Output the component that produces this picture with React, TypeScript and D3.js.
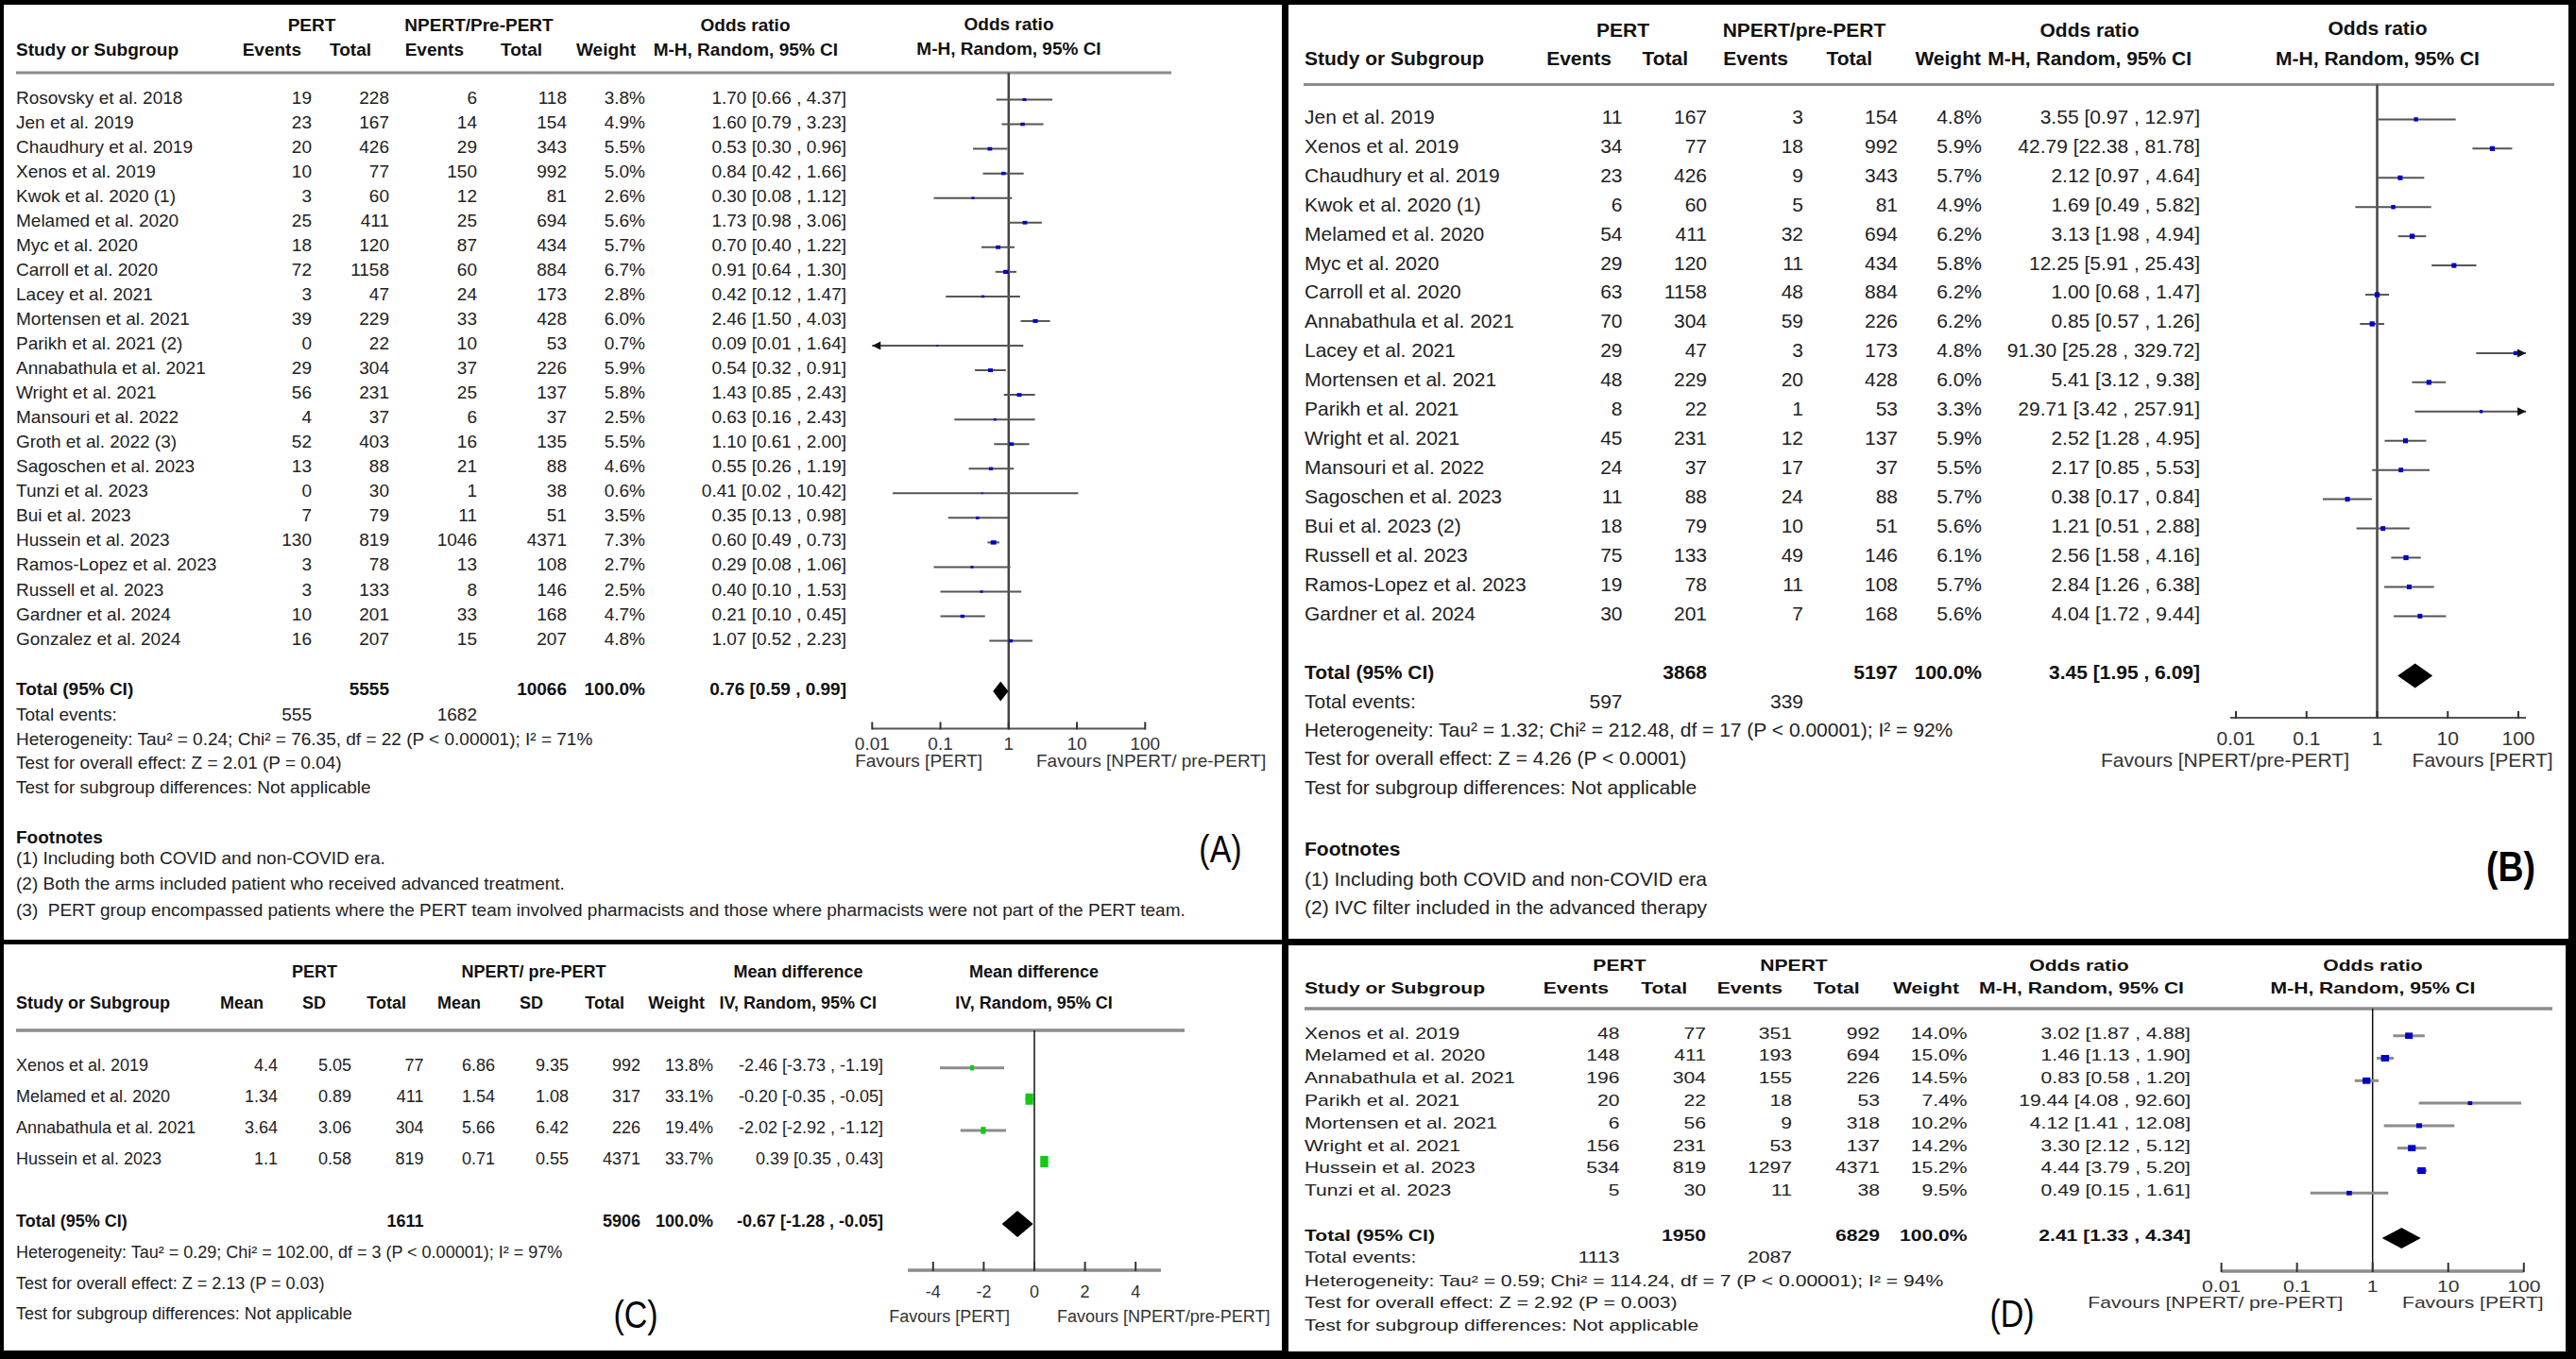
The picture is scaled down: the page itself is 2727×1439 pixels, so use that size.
import React from "react";
import * as d3 from "d3";

const W = 2727, H = 1439;
const FONT = "'Liberation Sans', Arial, Helvetica, sans-serif";

// ---------------- Panel A ----------------
const aStudies = ["Rosovsky et al. 2018", "Jen et al. 2019", "Chaudhury et al. 2019", "Xenos et al. 2019", "Kwok et al. 2020 (1)", "Melamed et al. 2020", "Myc et al. 2020", "Carroll et al. 2020", "Lacey et al. 2021", "Mortensen et al. 2021", "Parikh et al. 2021 (2)", "Annabathula et al. 2021", "Wright et al. 2021", "Mansouri et al. 2022", "Groth et al. 2022 (3)", "Sagoschen et al. 2023", "Tunzi et al. 2023", "Bui et al. 2023", "Hussein et al. 2023", "Ramos-Lopez et al. 2023", "Russell et al. 2023", "Gardner et al. 2024", "Gonzalez et al. 2024"];
const aPertEvents = [19, 23, 20, 10, 3, 25, 18, 72, 3, 39, 0, 29, 56, 4, 52, 13, 0, 7, 130, 3, 3, 10, 16];
const aPertTotal = [228, 167, 426, 77, 60, 411, 120, 1158, 47, 229, 22, 304, 231, 37, 403, 88, 30, 79, 819, 78, 133, 201, 207];
const aCtrlEvents = [6, 14, 29, 150, 12, 25, 87, 60, 24, 33, 10, 37, 25, 6, 16, 21, 1, 11, 1046, 13, 8, 33, 15];
const aCtrlTotal = [118, 154, 343, 992, 81, 694, 434, 884, 173, 428, 53, 226, 137, 37, 135, 88, 38, 51, 4371, 108, 146, 168, 207];
const aWeight = [3.8, 4.9, 5.5, 5.0, 2.6, 5.6, 5.7, 6.7, 2.8, 6.0, 0.7, 5.9, 5.8, 2.5, 5.5, 4.6, 0.6, 3.5, 7.3, 2.7, 2.5, 4.7, 4.8];
const aOR = [1.70, 1.60, 0.53, 0.84, 0.30, 1.73, 0.70, 0.91, 0.42, 2.46, 0.09, 0.54, 1.43, 0.63, 1.10, 0.55, 0.41, 0.35, 0.60, 0.29, 0.40, 0.21, 1.07];
const aLo = [0.66, 0.79, 0.30, 0.42, 0.08, 0.98, 0.40, 0.64, 0.12, 1.50, 0.01, 0.32, 0.85, 0.16, 0.61, 0.26, 0.02, 0.13, 0.49, 0.08, 0.10, 0.10, 0.52];
const aHi = [4.37, 3.23, 0.96, 1.66, 1.12, 3.06, 1.22, 1.30, 1.47, 4.03, 1.64, 0.91, 2.43, 2.43, 2.00, 1.19, 10.42, 0.98, 0.73, 1.06, 1.53, 0.45, 2.23];
const aPooled = [0.76, 0.59, 0.99];
const aTotals = [5555, 10066];
const aTotalEvents = [555, 1682];
const aGroups = ["PERT", "NPERT/Pre-PERT"];
const aFavours = ["Favours [PERT]", "Favours [NPERT/ pre-PERT]"];
const aStats = [
  "Heterogeneity: Tau² = 0.24; Chi² = 76.35, df = 22 (P < 0.00001); I² = 71%",
  "Test for overall effect: Z = 2.01 (P = 0.04)",
  "Test for subgroup differences: Not applicable",
];
const aFootnotes = [
  "(1) Including both COVID and non-COVID era.",
  "(2) Both the arms included patient who received advanced treatment.",
  "(3)  PERT group encompassed patients where the PERT team involved pharmacists and those where pharmacists were not part of the PERT team.",
];

// ---------------- Panel B ----------------
const bStudies = ["Jen et al. 2019", "Xenos et al. 2019", "Chaudhury et al. 2019", "Kwok et al. 2020 (1)", "Melamed et al. 2020", "Myc et al. 2020", "Carroll et al. 2020", "Annabathula et al. 2021", "Lacey et al. 2021", "Mortensen et al. 2021", "Parikh et al. 2021", "Wright et al. 2021", "Mansouri et al. 2022", "Sagoschen et al. 2023", "Bui et al. 2023 (2)", "Russell et al. 2023", "Ramos-Lopez et al. 2023", "Gardner et al. 2024"];
const bPertEvents = [11, 34, 23, 6, 54, 29, 63, 70, 29, 48, 8, 45, 24, 11, 18, 75, 19, 30];
const bPertTotal = [167, 77, 426, 60, 411, 120, 1158, 304, 47, 229, 22, 231, 37, 88, 79, 133, 78, 201];
const bCtrlEvents = [3, 18, 9, 5, 32, 11, 48, 59, 3, 20, 1, 12, 17, 24, 10, 49, 11, 7];
const bCtrlTotal = [154, 992, 343, 81, 694, 434, 884, 226, 173, 428, 53, 137, 37, 88, 51, 146, 108, 168];
const bWeight = [4.8, 5.9, 5.7, 4.9, 6.2, 5.8, 6.2, 6.2, 4.8, 6.0, 3.3, 5.9, 5.5, 5.7, 5.6, 6.1, 5.7, 5.6];
const bOR = [3.55, 42.79, 2.12, 1.69, 3.13, 12.25, 1.00, 0.85, 91.30, 5.41, 29.71, 2.52, 2.17, 0.38, 1.21, 2.56, 2.84, 4.04];
const bLo = [0.97, 22.38, 0.97, 0.49, 1.98, 5.91, 0.68, 0.57, 25.28, 3.12, 3.42, 1.28, 0.85, 0.17, 0.51, 1.58, 1.26, 1.72];
const bHi = [12.97, 81.78, 4.64, 5.82, 4.94, 25.43, 1.47, 1.26, 329.72, 9.38, 257.91, 4.95, 5.53, 0.84, 2.88, 4.16, 6.38, 9.44];
const bPooled = [3.45, 1.95, 6.09];
const bTotals = [3868, 5197];
const bTotalEvents = [597, 339];
const bGroups = ["PERT", "NPERT/pre-PERT"];
const bFavours = ["Favours [NPERT/pre-PERT]", "Favours [PERT]"];
const bStats = [
  "Heterogeneity: Tau² = 1.32; Chi² = 212.48, df = 17 (P < 0.00001); I² = 92%",
  "Test for overall effect: Z = 4.26 (P < 0.0001)",
  "Test for subgroup differences: Not applicable",
];
const bFootnotes = [
  "(1) Including both COVID and non-COVID era",
  "(2) IVC filter included in the advanced therapy",
];

// ---------------- Panel C ----------------
const cStudies = ["Xenos et al. 2019", "Melamed et al. 2020", "Annabathula et al. 2021", "Hussein et al. 2023"];
const cPertMean = [4.4, 1.34, 3.64, 1.1];
const cPertSD = [5.05, 0.89, 3.06, 0.58];
const cPertTotal = [77, 411, 304, 819];
const cCtrlMean = [6.86, 1.54, 5.66, 0.71];
const cCtrlSD = [9.35, 1.08, 6.42, 0.55];
const cCtrlTotal = [992, 317, 226, 4371];
const cWeight = [13.8, 33.1, 19.4, 33.7];
const cMD = [-2.46, -0.20, -2.02, 0.39];
const cLo = [-3.73, -0.35, -2.92, 0.35];
const cHi = [-1.19, -0.05, -1.12, 0.43];
const cPooled = [-0.67, -1.28, -0.05];
const cTotals = [1611, 5906];
const cGroups = ["PERT", "NPERT/ pre-PERT"];
const cFavours = ["Favours [PERT]", "Favours [NPERT/pre-PERT]"];
const cTicks = [-4, -2, 0, 2, 4];
const cStats = [
  "Heterogeneity: Tau² = 0.29; Chi² = 102.00, df = 3 (P < 0.00001); I² = 97%",
  "Test for overall effect: Z = 2.13 (P = 0.03)",
  "Test for subgroup differences: Not applicable",
];

// ---------------- Panel D ----------------
const dStudies = ["Xenos et al. 2019", "Melamed et al. 2020", "Annabathula et al. 2021", "Parikh et al. 2021", "Mortensen et al. 2021", "Wright et al. 2021", "Hussein et al. 2023", "Tunzi et al. 2023"];
const dPertEvents = [48, 148, 196, 20, 6, 156, 534, 5];
const dPertTotal = [77, 411, 304, 22, 56, 231, 819, 30];
const dCtrlEvents = [351, 193, 155, 18, 9, 53, 1297, 11];
const dCtrlTotal = [992, 694, 226, 53, 318, 137, 4371, 38];
const dWeight = [14.0, 15.0, 14.5, 7.4, 10.2, 14.2, 15.2, 9.5];
const dOR = [3.02, 1.46, 0.83, 19.44, 4.12, 3.30, 4.44, 0.49];
const dLo = [1.87, 1.13, 0.58, 4.08, 1.41, 2.12, 3.79, 0.15];
const dHi = [4.88, 1.90, 1.20, 92.60, 12.08, 5.12, 5.20, 1.61];
const dPooled = [2.41, 1.33, 4.34];
const dTotals = [1950, 6829];
const dTotalEvents = [1113, 2087];
const dGroups = ["PERT", "NPERT"];
const dFavours = ["Favours [NPERT/ pre-PERT]", "Favours [PERT]"];
const dStats = [
  "Heterogeneity: Tau² = 0.59; Chi² = 114.24, df = 7 (P < 0.00001); I² = 94%",
  "Test for overall effect: Z = 2.92 (P = 0.003)",
  "Test for subgroup differences: Not applicable",
];

const orTicks = [0.01, 0.1, 1, 10, 100];
const orTickLabels = ["0.01", "0.1", "1", "10", "100"];
const orHeads = ["Events", "Total", "Events", "Total", "Weight", "M-H, Random, 95% CI"];
const mdHeads = ["Mean", "SD", "Total", "Mean", "SD", "Total", "Weight", "IV, Random, 95% CI"];

const f2 = (v: number) => v.toFixed(2);
const ciText = (e: number, l: number, h: number) => `${f2(e)} [${f2(l)} , ${f2(h)}]`;
const pct = (v: number) => `${v.toFixed(1)}%`;

function T({ x, y, s, sx = 1, w = "normal", a = "start", c = "#222", t, ff = FONT }: any) {
  return (
    <text
      transform={`translate(${x},${y})${sx !== 1 ? ` scale(${sx},1)` : ""}`}
      fontSize={s}
      fontWeight={w}
      textAnchor={a}
      fill={c}
      fontFamily={ff}
      style={{ whiteSpace: "pre" }}
    >
      {t}
    </text>
  );
}

function ForestOR({ d, L }: any) {
  const x = d3.scaleLog().domain([0.01, 100]).range(L.xr);
  const out: any[] = [];
  let k = 0;
  const txt = (xx: number, yy: number, t: string, o: any = {}) =>
    out.push(<T key={k++} x={xx} y={yy} s={L.fs} sx={L.sx} t={t} {...o} />);
  const HB = { w: "bold", c: "#111" };
  txt(L.gx[0], L.h1, d.groups[0], { ...HB, a: "middle" });
  txt(L.gx[1], L.h1, d.groups[1], { ...HB, a: "middle" });
  txt(L.gx[2], L.h1, "Odds ratio", { ...HB, a: "middle" });
  txt(L.pcx, L.ph1, "Odds ratio", { ...HB, a: "middle" });
  txt(L.nameX, L.h2, "Study or Subgroup", HB);
  orHeads.forEach((h, i) => txt(L.hEnds[i], L.h2, h, { ...HB, a: "end" }));
  txt(L.pcx, L.ph2, "M-H, Random, 95% CI", { ...HB, a: "middle" });
  out.push(<line key={k++} x1={L.line[0]} x2={L.line[1]} y1={L.line[2]} y2={L.line[2]} stroke="#8c8c8c" strokeWidth={L.lineW} />);
  out.push(<line key={k++} x1={x(1)} x2={x(1)} y1={L.vTop} y2={L.axisY} stroke={L.vC} strokeWidth={L.vW} />);
  d.studies.forEach((s: string, i: number) => {
    const yc = L.y0 + i * L.dy;
    const yb = yc + L.bo;
    txt(L.nameX, yb, s);
    [d.pe[i], d.pt[i], d.ce[i], d.ct[i]].forEach((v: number, j: number) => txt(L.cols[j], yb, String(v), { a: "end" }));
    txt(L.cols[4], yb, pct(d.w[i]), { a: "end" });
    txt(L.cols[5], yb, ciText(d.or[i], d.lo[i], d.hi[i]), { a: "end" });
    const arrowL = d.lo[i] <= 0.01;
    const arrowR = d.hi[i] >= 100;
    const x1 = arrowL ? L.tipL : x(d.lo[i]);
    const x2 = arrowR ? L.tipR : x(d.hi[i]);
    out.push(<line key={k++} x1={x1} x2={x2} y1={yc} y2={yc} stroke={L.ciC} strokeWidth={L.ciW} />);
    if (arrowL) out.push(<path key={k++} d={`M${x1},${yc}l9,-4.5v9z`} fill="#111" />);
    if (arrowR) out.push(<path key={k++} d={`M${x2},${yc}l-9,-4.5v9z`} fill="#111" />);
    const sw = L.sqW(d.w[i]);
    const sh = L.sqH(d.w[i]);
    out.push(<rect key={k++} x={x(d.or[i]) - sw / 2} y={yc - sh / 2} width={sw} height={sh} fill={L.sqC} />);
  });
  txt(L.nameX, L.totY, "Total (95% CI)", HB);
  txt(L.cols[1], L.totY, String(d.totals[0]), { ...HB, a: "end" });
  txt(L.cols[3], L.totY, String(d.totals[1]), { ...HB, a: "end" });
  txt(L.cols[4], L.totY, "100.0%", { ...HB, a: "end" });
  txt(L.cols[5], L.totY, ciText(d.pooled[0], d.pooled[1], d.pooled[2]), { ...HB, a: "end" });
  const [pe, pl, ph] = d.pooled;
  out.push(
    <path key={k++} d={`M${x(pl)},${L.diaY}L${x(pe)},${L.diaY - L.dh}L${x(ph)},${L.diaY}L${x(pe)},${L.diaY + L.dh}Z`} fill="#000" />
  );
  txt(L.nameX, L.evY, "Total events:");
  txt(L.cols[0], L.evY, String(d.totalEvents[0]), { a: "end" });
  txt(L.cols[2], L.evY, String(d.totalEvents[1]), { a: "end" });
  d.stats.forEach((s: string, i: number) => txt(L.nameX, L.statY[i], s));
  if (d.foot) {
    txt(L.nameX, L.footY[0], "Footnotes", HB);
    d.foot.forEach((f: string, i: number) => txt(L.nameX, L.footY[i + 1], f));
  }
  out.push(<line key={k++} x1={L.axX[0]} x2={L.axX[1]} y1={L.axisY} y2={L.axisY} stroke={L.axisC} strokeWidth={L.axisW} />);
  orTicks.forEach((t, i) => {
    out.push(<line key={k++} x1={x(t)} x2={x(t)} y1={L.axisY - L.tickLen} y2={L.axisY + 1} stroke="#333" strokeWidth={2} />);
    txt(x(t), L.tickY, orTickLabels[i], { a: "middle", c: "#333" });
  });
  txt(L.favL, L.favY, d.fav[0], { a: "end", c: "#333" });
  txt(L.favR, L.favY, d.fav[1], { c: "#333" });
  out.push(<T key={k++} x={L.label.x} y={L.label.y} s={L.label.s} sx={0.85} w={L.label.w} a="middle" c="#000" t={L.label.t} />);
  return <g>{out}</g>;
}

function ForestMD({ L }: any) {
  const x = d3.scaleLinear().domain([-5, 5]).range(L.xr);
  const out: any[] = [];
  let k = 0;
  const txt = (xx: number, yy: number, t: string, o: any = {}) =>
    out.push(<T key={k++} x={xx} y={yy} s={L.fs} t={t} {...o} />);
  const HB = { w: "bold", c: "#111" };
  txt(L.gx[0], L.h1, cGroups[0], { ...HB, a: "middle" });
  txt(L.gx[1], L.h1, cGroups[1], { ...HB, a: "middle" });
  txt(L.gx[2], L.h1, "Mean difference", { ...HB, a: "middle" });
  txt(L.pcx, L.h1, "Mean difference", { ...HB, a: "middle" });
  txt(L.nameX, L.h2, "Study or Subgroup", HB);
  mdHeads.forEach((h, i) => txt(L.hEnds[i], L.h2, h, { ...HB, a: "end" }));
  txt(L.pcx, L.h2, "IV, Random, 95% CI", { ...HB, a: "middle" });
  out.push(<line key={k++} x1={L.line[0]} x2={L.line[1]} y1={L.line[2]} y2={L.line[2]} stroke="#8c8c8c" strokeWidth={3.5} />);
  out.push(<line key={k++} x1={x(0)} x2={x(0)} y1={L.vTop} y2={L.axisY} stroke="#111" strokeWidth={1.5} />);
  cStudies.forEach((s, i) => {
    const yc = L.y0 + i * L.dy;
    const yb = yc + L.bo;
    txt(L.nameX, yb, s);
    [cPertMean[i], cPertSD[i], cPertTotal[i], cCtrlMean[i], cCtrlSD[i], cCtrlTotal[i]].forEach((v, j) =>
      txt(L.cols[j], yb, String(v), { a: "end" })
    );
    txt(L.cols[6], yb, pct(cWeight[i]), { a: "end" });
    txt(L.cols[7], yb, ciText(cMD[i], cLo[i], cHi[i]), { a: "end" });
    out.push(<line key={k++} x1={x(cLo[i])} x2={x(cHi[i])} y1={yc} y2={yc} stroke="#8c8c8c" strokeWidth={3} />);
    const sw = L.sqW(cWeight[i]);
    const sh = L.sqH(cWeight[i]);
    out.push(<rect key={k++} x={x(cMD[i]) - sw / 2} y={yc - sh / 2} width={sw} height={sh} fill="#14c814" />);
  });
  txt(L.nameX, L.totY, "Total (95% CI)", HB);
  txt(L.cols[2], L.totY, String(cTotals[0]), { ...HB, a: "end" });
  txt(L.cols[5], L.totY, String(cTotals[1]), { ...HB, a: "end" });
  txt(L.cols[6], L.totY, "100.0%", { ...HB, a: "end" });
  txt(L.cols[7], L.totY, ciText(cPooled[0], cPooled[1], cPooled[2]), { ...HB, a: "end" });
  const [pe, pl, ph] = cPooled;
  out.push(
    <path key={k++} d={`M${x(pl)},${L.diaY}L${x(pe)},${L.diaY - L.dh}L${x(ph)},${L.diaY}L${x(pe)},${L.diaY + L.dh}Z`} fill="#000" />
  );
  cStats.forEach((s, i) => txt(L.nameX, L.statY[i], s));
  out.push(<line key={k++} x1={L.xr[0]} x2={L.xr[1]} y1={L.axisY} y2={L.axisY} stroke="#8c8c8c" strokeWidth={3.5} />);
  cTicks.forEach((t) => {
    out.push(<line key={k++} x1={x(t)} x2={x(t)} y1={L.axisY - 9} y2={L.axisY + 1} stroke="#333" strokeWidth={2} />);
    txt(x(t), L.tickY, String(t), { a: "middle", c: "#333" });
  });
  txt(L.favL, L.favY, cFavours[0], { a: "end", c: "#333" });
  txt(L.favR, L.favY, cFavours[1], { c: "#333" });
  out.push(<T key={k++} x={L.label.x} y={L.label.y} s={L.label.s} sx={0.85} a="middle" c="#000" t={L.label.t} />);
  return <g>{out}</g>;
}

const dataA = { studies: aStudies, pe: aPertEvents, pt: aPertTotal, ce: aCtrlEvents, ct: aCtrlTotal, w: aWeight, or: aOR, lo: aLo, hi: aHi, pooled: aPooled, totals: aTotals, totalEvents: aTotalEvents, groups: aGroups, fav: aFavours, stats: aStats, foot: aFootnotes };
const dataB = { studies: bStudies, pe: bPertEvents, pt: bPertTotal, ce: bCtrlEvents, ct: bCtrlTotal, w: bWeight, or: bOR, lo: bLo, hi: bHi, pooled: bPooled, totals: bTotals, totalEvents: bTotalEvents, groups: bGroups, fav: bFavours, stats: bStats, foot: bFootnotes };
const dataD = { studies: dStudies, pe: dPertEvents, pt: dPertTotal, ce: dCtrlEvents, ct: dCtrlTotal, w: dWeight, or: dOR, lo: dLo, hi: dHi, pooled: dPooled, totals: dTotals, totalEvents: dTotalEvents, groups: dGroups, fav: dFavours, stats: dStats, foot: null };

const LA = {
  fs: 19, sx: 1, nameX: 17, cols: [330, 412, 505, 600, 683, 896],
  gx: [330, 507, 789], h1: 33, h2: 59, hEnds: [319, 393, 491, 574, 673, 887], pcx: 1068, ph1: 32, ph2: 58,
  line: [17, 1240, 77], lineW: 3,
  y0: 105.5, dy: 26.05, bo: 4,
  totY: 736, diaY: 732, dh: 10.5, evY: 763, statY: [789, 814, 840], footY: [893, 915, 942, 970],
  xr: [923.3, 1212.3], vTop: 77, axisY: 771.5, axX: [923.3, 1212.3], tickLen: 7, tickY: 794, favY: 812, favL: 1040, favR: 1097,
  tipL: 923.3, tipR: 1212.3,
  sqW: (w: number) => 1.5 + 0.6 * w, sqH: (w: number) => 1.5 + 0.4 * w,
  ciC: "#555", ciW: 2, sqC: "#0000c8", axisC: "#555", axisW: 2, vC: "#444", vW: 2.5,
  label: { t: "(A)", x: 1292, y: 913, s: 40, w: "normal" },
};
const LB = {
  fs: 21, sx: 1, nameX: 1381, cols: [1717.5, 1807, 1909, 2009, 2098, 2329],
  gx: [1718, 1910, 2212], h1: 38.5, h2: 68.5, hEnds: [1706, 1787, 1893, 1982, 2097, 2320], pcx: 2517, ph1: 37, ph2: 68.5,
  line: [1380, 2704, 89.5], lineW: 3,
  y0: 126.4, dy: 30.94, bo: 4.4,
  totY: 718.5, diaY: 715.5, dh: 13, evY: 749.5, statY: [779.5, 809.5, 841], footY: [905.5, 937.5, 967.5],
  xr: [2367, 2666], vTop: 89.5, axisY: 760, axX: [2361, 2674], tickLen: 7, tickY: 788.5, favY: 811.5, favL: 2487, favR: 2553.6,
  tipL: 2361, tipR: 2674,
  sqW: (w: number) => 1 + 0.7 * w, sqH: (w: number) => 1 + 0.7 * w,
  ciC: "#555", ciW: 2, sqC: "#0000c8", axisC: "#555", axisW: 2, vC: "#444", vW: 2.5,
  label: { t: "(B)", x: 2658, y: 933, s: 44, w: "bold" },
};
const LD = {
  fs: 16, sx: 1.32, nameX: 1381, cols: [1714.5, 1806, 1897, 1990, 2082.6, 2319],
  gx: [1714.5, 1899, 2201], h1: 1027.6, h2: 1051.6, hEnds: [1703, 1786, 1887, 1968.6, 2074, 2312], pcx: 2512, ph1: 1027.6, ph2: 1051.6,
  line: [1381, 2702, 1068], lineW: 3.5,
  y0: 1096.7, dy: 23.8, bo: 2.8,
  totY: 1313.6, diaY: 1311, dh: 11, evY: 1337.3, statY: [1361.6, 1384.6, 1408.6], footY: null,
  xr: [2351.6, 2671.8], vTop: 1068, axisY: 1346, axX: [2351.6, 2671.8], tickLen: 9, tickY: 1367.6, favY: 1384.6, favL: 2480.4, favR: 2543,
  tipL: 2351.6, tipR: 2671.8,
  sqW: (w: number) => 1 + 0.5 * w, sqH: (w: number) => 1 + 0.4 * w,
  ciC: "#8c8c8c", ciW: 3, sqC: "#0000cc", axisC: "#8c8c8c", axisW: 3.5, vC: "#111", vW: 1.5,
  label: { t: "(D)", x: 2130, y: 1405, s: 40, w: "normal" },
};
const LC = {
  fs: 18, nameX: 17, cols: [294, 372, 448.5, 524, 602, 678, 755, 935],
  gx: [333, 565, 845], h1: 1034.5, h2: 1067.5, hEnds: [279, 345, 430, 509, 575, 661, 746, 928], pcx: 1094.5,
  line: [17, 1254, 1091], y0: 1130.7, dy: 33.1, bo: 3,
  totY: 1298.5, diaY: 1296, dh: 14, statY: [1331.5, 1364.5, 1396.5],
  xr: [961, 1229], vTop: 1091, axisY: 1345, tickY: 1373.5, favY: 1399.5, favL: 1069, favR: 1119,
  sqW: (w: number) => 1 + 0.22 * w, sqH: (w: number) => 1 + 0.33 * w,
  label: { t: "(C)", x: 673, y: 1406, s: 40 },
};

export default function App() {
  return (
    <div style={{ position: "absolute", left: 0, top: 0 }}>
      <svg width={W} height={H} viewBox={`0 0 ${W} ${H}`} style={{ display: "block" }}>
        <rect width={W} height={H} fill="#000" />
        <rect x={4} y={5} width={1353} height={990} fill="#fff" />
        <rect x={1364} y={5} width={1355} height={989} fill="#fff" />
        <rect x={4} y={1000} width={1353} height={430} fill="#fff" />
        <rect x={1364} y={1001} width={1352} height={430} fill="#fff" />
        <ForestOR d={dataA} L={LA} />
        <ForestOR d={dataB} L={LB} />
        <ForestMD L={LC} />
        <ForestOR d={dataD} L={LD} />
      </svg>
    </div>
  );
}
